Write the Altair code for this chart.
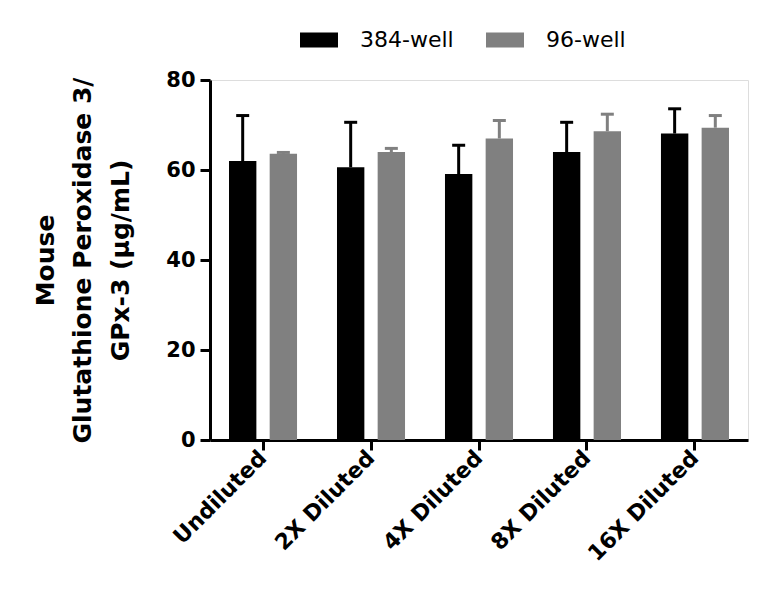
import altair as alt
import pandas as pd

categories = ["Undiluted", "2X Diluted", "4X Diluted", "8X Diluted", "16X Diluted"]
series = ["384-well", "96-well"]
mean_384 = [62.0, 60.6, 59.1, 64.0, 68.1]
sd_384 = [10.1, 10.0, 6.4, 6.6, 5.5]
mean_96 = [63.6, 64.0, 67.0, 68.6, 69.4]
sd_96 = [0.3, 0.8, 4.0, 3.8, 2.7]

rows = []
for i, c in enumerate(categories):
    rows.append({"cat": c, "series": series[0], "mean": mean_384[i], "top": mean_384[i] + sd_384[i]})
    rows.append({"cat": c, "series": series[1], "mean": mean_96[i], "top": mean_96[i] + sd_96[i]})
df = pd.DataFrame(rows)

FONT = "DejaVu Sans"
colors = ["#000000", "#808080"]

x_enc = alt.X("cat:N", sort=categories, title=None,
              scale=alt.Scale(paddingInner=0.37, paddingOuter=0.176),
              axis=alt.Axis(labelAngle=-45, labelFontSize=22, labelFontWeight="bold",
                            labelFont=FONT, labelColor="black", tickSize=10, tickWidth=3,
                            tickColor="black", domainColor="black", domainWidth=3,
                            labelPadding=4))
xoff = alt.XOffset("series:N", sort=series, scale=alt.Scale(paddingInner=0.327, paddingOuter=0))
y_scale = alt.Scale(domain=[0, 80], nice=False)
color_enc = alt.Color("series:N", sort=series,
                      scale=alt.Scale(domain=series, range=colors),
                      legend=alt.Legend(title=None, orient="none", direction="horizontal",
                                        legendX=90, legendY=-59, labelFontSize=22,
                                        labelFont=FONT, labelColor="black",
                                        symbolType="M-1,-0.4L1,-0.4L1,0.4L-1,0.4Z",
                                        symbolSize=1444, symbolStrokeWidth=0,
                                        symbolOpacity=1, labelOffset=22,
                                        columnPadding=32, padding=0))

bars = alt.Chart(df).mark_bar(opacity=1).encode(
    x=x_enc,
    xOffset=xoff,
    y=alt.Y("mean:Q", scale=y_scale,
            title=["Mouse", "Glutathione Peroxidase 3/", "GPx-3 (µg/mL)"],
            axis=alt.Axis(values=[0, 20, 40, 60, 80], grid=False, labelFontSize=21,
                          labelFontWeight="bold", labelFont=FONT, labelColor="black",
                          tickSize=10, tickWidth=3, tickColor="black",
                          domainColor="black", domainWidth=3, labelPadding=5,
                          titleFontSize=25, titleFont=FONT, titleFontWeight="bold",
                          titleColor="black", titleLineHeight=37.5,
                          titleX=-165, titleY=180, titleAngle=-90,
                          titleAlign="center", titleBaseline="middle")),
    color=color_enc,
)

rules = alt.Chart(df).mark_rule(strokeWidth=3).encode(
    x=alt.X("cat:N", sort=categories),
    xOffset=xoff,
    y=alt.Y("mean:Q", scale=y_scale),
    y2="top:Q",
    color=color_enc,
)

caps = alt.Chart(df).mark_tick(size=13, thickness=3, opacity=1).encode(
    x=alt.X("cat:N", sort=categories),
    xOffset=xoff,
    y=alt.Y("top:Q", scale=y_scale),
    color=color_enc,
)

chart = alt.layer(rules, bars, caps).properties(
    width=538, height=360,
    autosize=alt.AutoSizeParams(type="none"),
    padding={"left": 210, "top": 80, "right": 20, "bottom": 169},
).configure_view(stroke=None).configure(background="white")

chart.save("out.html", embed_options={"renderer": "svg", "actions": False})
